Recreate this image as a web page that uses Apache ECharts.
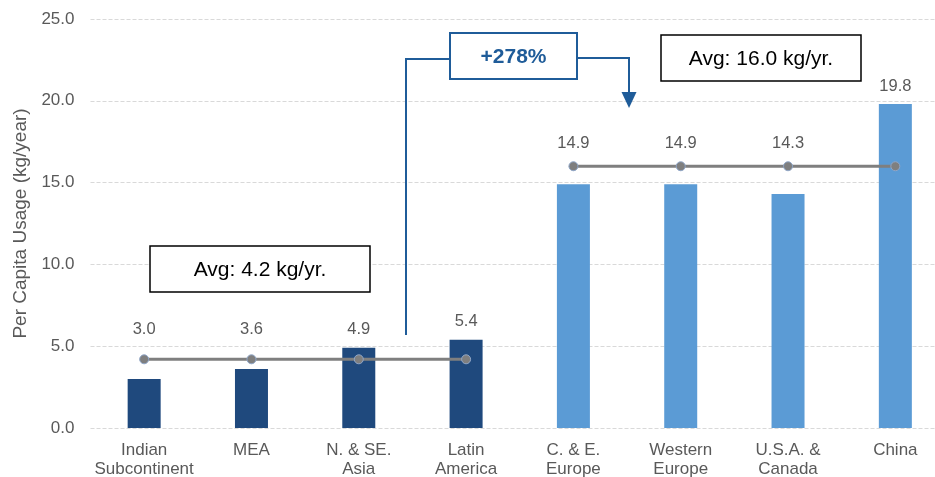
<!DOCTYPE html>
<html>
<head>
<meta charset="utf-8">
<script src="https://cdn.jsdelivr.net/npm/echarts@6/dist/echarts.min.js"></script>
<style>html,body{margin:0;padding:0;background:#fff}#c{width:935px;height:477px}</style>
</head>
<body>
<div id="c"></div>
<script>
const categories = ["Indian\nSubcontinent", "MEA", "N. & SE.\nAsia", "Latin\nAmerica", "C. & E.\nEurope", "Western\nEurope", "U.S.A. &\nCanada", "China"];
const values = [3.0, 3.6, 4.9, 5.4, 14.9, 14.9, 14.3, 19.8];
const groups = ["low", "low", "low", "low", "high", "high", "high", "high"];
const lowAvg = 4.2;
const highAvg = 16.0;
const yTicks = { min: 0, max: 25, interval: 5 };
const changeLabel = "+278%";
const lowAvgLabel = "Avg: 4.2 kg/yr.";
const highAvgLabel = "Avg: 16.0 kg/yr.";

const DARK = "#1f497d", LIGHT = "#5b9bd5", GRAY = "#595959", BLUE = "#1f5c99";
const FONT = "Liberation Sans, Arial, sans-serif";

const avgOf = i => groups[i] === "low" ? lowAvg : highAvg;
const onBar = i => values[i] > avgOf(i) + 0.5;

const barData = values.map((v, i) => ({
  value: v,
  itemStyle: { color: groups[i] === "low" ? DARK : LIGHT },
  label: { show: onBar(i) }
}));
const lowLine = values.map((v, i) => groups[i] === "low" ? lowAvg : "-");
const highLine = values.map((v, i) => groups[i] === "high" ? highAvg : "-");

const valueLabel = { color: GRAY, fontSize: 16.5, fontFamily: FONT };

const chart = echarts.init(document.getElementById("c"), null, { renderer: "canvas" });
chart.setOption({
  animation: false,
  textStyle: { fontFamily: FONT },
  grid: { left: 90.5, right: -14, top: 19, bottom: 49, containLabel: false, outerBoundsMode: "none" },
  xAxis: {
    type: "category",
    data: categories,
    axisLine: { show: false },
    axisTick: { show: false },
    axisLabel: { interval: 0, color: GRAY, fontSize: 17, lineHeight: 19, margin: 13, fontFamily: FONT }
  },
  yAxis: {
    type: "value",
    min: yTicks.min, max: yTicks.max, interval: yTicks.interval,
    name: "Per Capita Usage (kg/year)",
    nameLocation: "middle",
    nameGap: 57,
    nameTextStyle: { color: GRAY, fontSize: 19, fontFamily: FONT },
    axisLabel: { color: GRAY, fontSize: 17, margin: 16, formatter: v => v.toFixed(1), fontFamily: FONT },
    splitLine: { lineStyle: { color: "#d9d9d9", width: 1, type: [4, 2] } },
    axisLine: { show: false }, axisTick: { show: false }
  },
  series: [
    {
      type: "bar", data: barData, barWidth: 33, z: 2,
      label: Object.assign({ position: "top", distance: 9.5, formatter: p => p.value.toFixed(1) }, valueLabel)
    },
    {
      type: "line", data: lowLine, z: 3, symbol: "circle", symbolSize: 9,
      lineStyle: { color: "#7f7f7f", width: 3 },
      itemStyle: { color: "#7f7f7f", borderColor: "#8fa6c8", borderWidth: 1 },
      label: Object.assign({ show: true, position: "top", distance: 16,
        formatter: p => onBar(p.dataIndex) ? "" : values[p.dataIndex].toFixed(1) }, valueLabel)
    },
    {
      type: "line", data: highLine, z: 3, symbol: "circle", symbolSize: 9,
      lineStyle: { color: "#7f7f7f", width: 3 },
      itemStyle: { color: "#7f7f7f", borderColor: "#8fa6c8", borderWidth: 1 },
      label: Object.assign({ show: true, position: "top", distance: 9,
        formatter: p => onBar(p.dataIndex) ? "" : values[p.dataIndex].toFixed(1) }, valueLabel)
    }
  ],
  graphic: [
    { type: "rect", shape: { x: 150, y: 246, width: 220, height: 46 }, style: { fill: "#fff", stroke: "#000", lineWidth: 1.5 }, z: 10 },
    { type: "text", x: 260, y: 270, style: { text: lowAvgLabel, fill: "#000", font: "21px " + FONT, align: "center", verticalAlign: "middle" }, z: 11 },
    { type: "rect", shape: { x: 661, y: 35, width: 200, height: 46 }, style: { fill: "#fff", stroke: "#000", lineWidth: 1.5 }, z: 10 },
    { type: "text", x: 761, y: 59, style: { text: highAvgLabel, fill: "#000", font: "21px " + FONT, align: "center", verticalAlign: "middle" }, z: 11 },
    { type: "polyline", shape: { points: [[406, 335], [406, 59], [450, 59]] }, style: { stroke: BLUE, lineWidth: 2, fill: null }, z: 10 },
    { type: "polyline", shape: { points: [[577, 58], [629, 58], [629, 92]] }, style: { stroke: BLUE, lineWidth: 2, fill: null }, z: 10 },
    { type: "polygon", shape: { points: [[621.5, 92], [636.5, 92], [629, 108]] }, style: { fill: BLUE }, z: 10 },
    { type: "rect", shape: { x: 450, y: 33, width: 127, height: 46 }, style: { fill: "#fff", stroke: BLUE, lineWidth: 2 }, z: 10 },
    { type: "text", x: 513.5, y: 57, style: { text: changeLabel, fill: BLUE, font: "bold 21px " + FONT, align: "center", verticalAlign: "middle" }, z: 11 }
  ]
});
</script>
</body>
</html>
